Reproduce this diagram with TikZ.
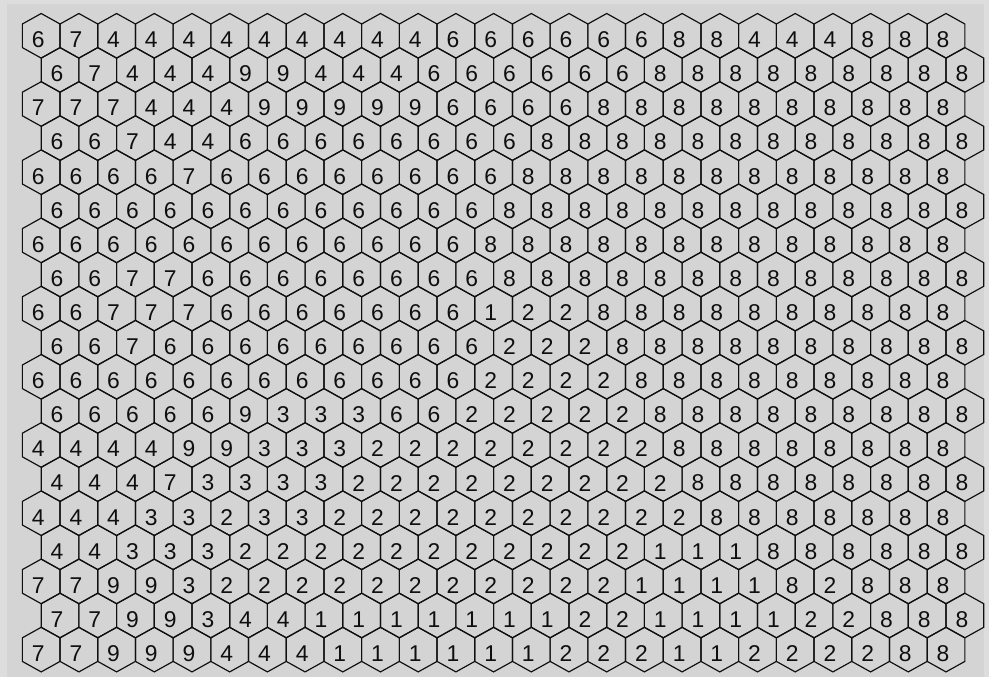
\documentclass[tikz,border=0pt]{standalone}
\usepackage{fontspec}
\setmainfont{Liberation Sans}
\usepackage{tikz}
\usetikzlibrary{positioning}
\usepackage{xcolor}
\definecolor{panel}{RGB}{212,212,212}
\definecolor{frame}{RGB}{221,221,221}
\definecolor{ink}{RGB}{15,15,15}

\begin{document}
\begin{tikzpicture}[x=0.03cm,y=-0.03cm,
  hexline/.style={draw=ink,line width=1pt,line join=miter},
  cellnum/.style={inner sep=0pt,text=ink,font=\fontsize{19.5pt}{19.5pt}\selectfont}]
\useasboundingbox (0,0) rectangle (989,677);
\fill[frame] (0,0) rectangle (989,677);
\fill[panel] (7,4) rectangle (984,677);
\foreach \row [count=\r] in {
  {6,7,4,4,4,4,4,4,4,4,4,6,6,6,6,6,6,8,8,4,4,4,8,8,8},
  {6,7,4,4,4,9,9,4,4,4,6,6,6,6,6,6,8,8,8,8,8,8,8,8,8},
  {7,7,7,4,4,4,9,9,9,9,9,6,6,6,6,8,8,8,8,8,8,8,8,8,8},
  {6,6,7,4,4,6,6,6,6,6,6,6,6,8,8,8,8,8,8,8,8,8,8,8,8},
  {6,6,6,6,7,6,6,6,6,6,6,6,6,8,8,8,8,8,8,8,8,8,8,8,8},
  {6,6,6,6,6,6,6,6,6,6,6,6,8,8,8,8,8,8,8,8,8,8,8,8,8},
  {6,6,6,6,6,6,6,6,6,6,6,6,8,8,8,8,8,8,8,8,8,8,8,8,8},
  {6,6,7,7,6,6,6,6,6,6,6,6,8,8,8,8,8,8,8,8,8,8,8,8,8},
  {6,6,7,7,7,6,6,6,6,6,6,6,1,2,2,8,8,8,8,8,8,8,8,8,8},
  {6,6,7,6,6,6,6,6,6,6,6,6,2,2,2,8,8,8,8,8,8,8,8,8,8},
  {6,6,6,6,6,6,6,6,6,6,6,6,2,2,2,2,8,8,8,8,8,8,8,8,8},
  {6,6,6,6,6,9,3,3,3,6,6,2,2,2,2,2,8,8,8,8,8,8,8,8,8},
  {4,4,4,4,9,9,3,3,3,2,2,2,2,2,2,2,2,8,8,8,8,8,8,8,8},
  {4,4,4,7,3,3,3,3,2,2,2,2,2,2,2,2,2,8,8,8,8,8,8,8,8},
  {4,4,4,3,3,2,3,3,2,2,2,2,2,2,2,2,2,2,8,8,8,8,8,8,8},
  {4,4,3,3,3,2,2,2,2,2,2,2,2,2,2,2,1,1,1,8,8,8,8,8,8},
  {7,7,9,9,3,2,2,2,2,2,2,2,2,2,2,2,1,1,1,1,8,2,8,8,8},
  {7,7,9,9,3,4,4,1,1,1,1,1,1,1,2,2,1,1,1,1,2,2,8,8,8},
  {7,7,9,9,9,4,4,4,1,1,1,1,1,1,2,2,2,1,1,2,2,2,2,8,8}}
{
  \foreach \v [count=\k] in \row {
    \pgfmathsetmacro{\cx}{41.2+(\k-1)*37.7+mod(\r+1,2)*18.85}
    \pgfmathsetmacro{\cy}{35.8+(\r-1)*34.1}
    \draw[hexline] (\cx,\cy-22.3) -- ++(18.85,10.5) -- ++(0,23.6)
      -- ++(-18.85,10.5) -- ++(-18.85,-10.5) -- ++(0,-23.6) -- cycle;
    \node[cellnum] (c-\r-\k) at (\cx-3,\cy+4) {\v};
  }
}
\end{tikzpicture}
\end{document}
